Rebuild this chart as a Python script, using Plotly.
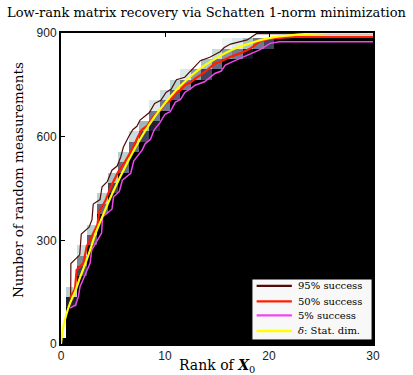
import plotly.graph_objects as go

# ---------------- data ----------------
ranks = list(range(31))
m_grid = list(range(0, 901, 30))

# heatmap: per rank, number of fully-failing (black) rows from bottom,
# followed by transitional success probabilities, then success (white)
black_rows = [1, 4, 7, 10, 13, 15, 17, 19, 20, 21, 23, 24, 25, 26, 26, 27, 28, 28, 28, 29,
              29, 30, 30, 30, 30, 30, 30, 30, 30, 30, 30]
trans_vals = [[], [0.15, 0.8], [0.3, 0.55, 0.85], [0.4, 0.8], [0.45, 0.8], [0.3, 0.75],
              [0.45, 0.8], [0.45, 0.85], [0.3, 0.7], [0.15, 0.5, 0.9], [0.5, 0.85],
              [0.4, 0.8], [0.5, 0.9], [0.6], [0.3, 0.75], [0.45, 0.85],
              [0.6, 0.95], [0.5, 0.9], [0.1, 0.75], [0.5], [0.3],
              [], [], [], [], [], [], [], [], [], []]

# 95% success curve
x95 = [0.93, 0.95, 1.8, 1.95, 2.7, 2.98, 3.1, 3.75, 3.95, 4.45, 4.9, 5.4, 5.75, 6.0, 6.5,
       6.9, 7.3, 7.6, 8.5, 9.0, 9.6, 10.1, 10.6, 11.1, 11.9, 12.9, 13.4, 14.3, 15.3, 15.7,
       16.3, 17.9, 18.8, 30]
m95 = [135, 233, 258, 318, 338, 360, 405, 418, 455, 470, 503, 515, 542, 570, 600,
       620, 630, 648, 670, 696, 705, 728, 738, 765, 772, 802, 820, 830, 846, 858,
       868, 880, 898, 898]

# 50% success curve
x50 = [0.87, 1.35, 1.5, 2.15, 2.47, 3.1, 3.5, 3.7, 4.23, 4.87, 5.5, 6.15, 6.8, 7.4, 7.75,
       8.3, 8.8, 9.5, 10.0, 10.5, 11.0, 11.5, 11.9, 12.5, 12.9, 13.8, 14.8, 15.3, 16.2,
       17.2, 18.2, 19.1, 20.1, 22.3, 30]
m50 = [133, 160, 214, 234, 282, 318, 345, 385, 412, 460, 498, 527, 561, 600, 619,
       632, 655, 675, 696, 705, 725, 735, 749, 758, 768, 787, 812, 817, 830,
       841, 855, 875, 884, 889, 889]

# 5% success curve
x05 = [0.87, 1.4, 1.67, 1.83, 2.8, 2.95, 3.9, 4.0, 4.9, 5.05, 5.6, 5.9, 6.7, 7.0, 7.8,
       8.1, 8.6, 8.95, 9.5, 10.0, 10.5, 11.0, 11.5, 11.9, 12.5, 12.9, 13.8, 14.8, 15.4,
       15.8, 16.5, 17.2, 18.2, 19.1, 20.1, 21.0, 30]
m05 = [104, 113, 137, 166, 234, 272, 321, 368, 390, 426, 441, 474, 494, 530, 561,
       580, 592, 619, 640, 665, 672, 700, 708, 728, 740, 749, 759, 783, 790,
       807, 817, 826, 841, 851, 870, 875, 875]

# statistical dimension
xsd = [0, 0.06, 0.22, 0.55, 0.87, 1.35, 1.8, 2.3, 2.8, 3.27, 4, 5, 6, 7, 8, 9, 10, 11, 12,
       13, 14, 15, 16, 17, 18, 19, 20, 21, 22, 23, 24, 25, 26, 30]
msd = [0, 16, 50, 89, 118, 151, 190, 229, 272, 315, 370, 440, 502, 560, 612, 657, 697, 732,
       762, 788, 810, 828, 845, 858, 868, 878, 885, 890, 893, 896, 898, 899, 900, 900]

y_ticks = [0, 300, 600, 900]
x_ticks = [0, 10, 20, 30]

series_names = ['95% success', '50% success', '5% success', '<i>δ</i>: Stat. dim.']
series_colors = ['rgb(80,10,10)', 'rgb(255,30,0)', 'rgb(240,70,240)', 'rgb(255,255,0)']
series_widths = [1.2, 2.2, 1.5, 2.2]

# ---------------- build heatmap matrix ----------------
z = []
for i, m in enumerate(m_grid):
    row = []
    for r in ranks:
        k0 = black_rows[r]
        tv = trans_vals[r]
        if i < k0:
            row.append(0.0)
        elif i - k0 < len(tv):
            row.append(tv[i - k0])
        else:
            row.append(1.0)
    z.append(row)

bone = [[0.0, 'rgb(0,0,0)'], [0.375, 'rgb(84,84,116)'],
        [0.75, 'rgb(167,199,199)'], [1.0, 'rgb(255,255,255)']]

fig = go.Figure()
fig.add_trace(go.Heatmap(x=ranks, y=m_grid, z=z, colorscale=bone, zmin=0, zmax=1,
                         showscale=False, hoverinfo='skip'))

serif = 'DejaVu Serif'
curves = [(x95, m95), (x50, m50), (x05, m05), (xsd, msd)]
for k, (xs, ys) in enumerate(curves):
    fig.add_trace(go.Scatter(x=xs, y=ys, mode='lines', name=series_names[k],
                             showlegend=False,
                             line=dict(color=series_colors[k], width=series_widths[k],
                                       shape='spline' if k == 3 else 'linear')))

tickfont = dict(family='Liberation Sans', size=12, color='#222')
fig.update_xaxes(range=[0, 30], tickvals=x_ticks, ticks='inside', ticklen=4,
                 tickcolor='black', showline=True, linewidth=2, linecolor='black',
                 mirror='ticks', showgrid=False, zeroline=False, tickfont=tickfont,
                 automargin=False)
fig.update_yaxes(range=[0, 900], tickvals=y_ticks, ticks='inside', ticklen=4,
                 tickcolor='black', showline=True, linewidth=2, linecolor='black',
                 mirror='ticks', showgrid=False, zeroline=False, tickfont=tickfont,
                 automargin=False)

annotations = [
    dict(text='Rank of <b><i>X</i></b><sub>0</sub>', xref='paper', yref='paper',
         x=0.5, y=-0.072, xanchor='center', yanchor='middle', showarrow=False,
         font=dict(family=serif, size=14, color='black')),
    dict(text='Number of random measurements', xref='paper', yref='paper',
         x=-0.138, y=0.527, xanchor='center', yanchor='middle', showarrow=False,
         textangle=-90, font=dict(family=serif, size=13.5, color='black')),
]

# compact MATLAB-like legend box
shapes = [dict(type='rect', xref='paper', yref='paper', x0=0.612, x1=0.997,
               y0=0.013, y1=0.209, fillcolor='rgb(248,248,248)',
               line=dict(color='black', width=1), layer='above')]
entry_y = [0.187, 0.137, 0.092, 0.042]
for k in range(4):
    shapes.append(dict(type='line', xref='paper', yref='paper', x0=0.627, x1=0.74,
                       y0=entry_y[k], y1=entry_y[k], layer='above',
                       line=dict(color=series_colors[k], width=2.4)))
    annotations.append(dict(text=series_names[k], xref='paper', yref='paper',
                            x=0.752, y=entry_y[k], xanchor='left', yanchor='middle',
                            showarrow=False,
                            font=dict(family=serif, size=10, color='black')))

fig.update_layout(
    width=413, height=375,
    margin=dict(l=61, r=40, t=33, b=31),
    paper_bgcolor='white', plot_bgcolor='white',
    title=dict(text='Low-rank matrix recovery via Schatten 1-norm minimization',
               x=0.5, xanchor='center', y=0.967, yanchor='middle', yref='container',
               font=dict(family=serif, size=13, color='black')),
    showlegend=False,
    shapes=shapes,
    annotations=annotations,
)

fig.write_html('out.html')
